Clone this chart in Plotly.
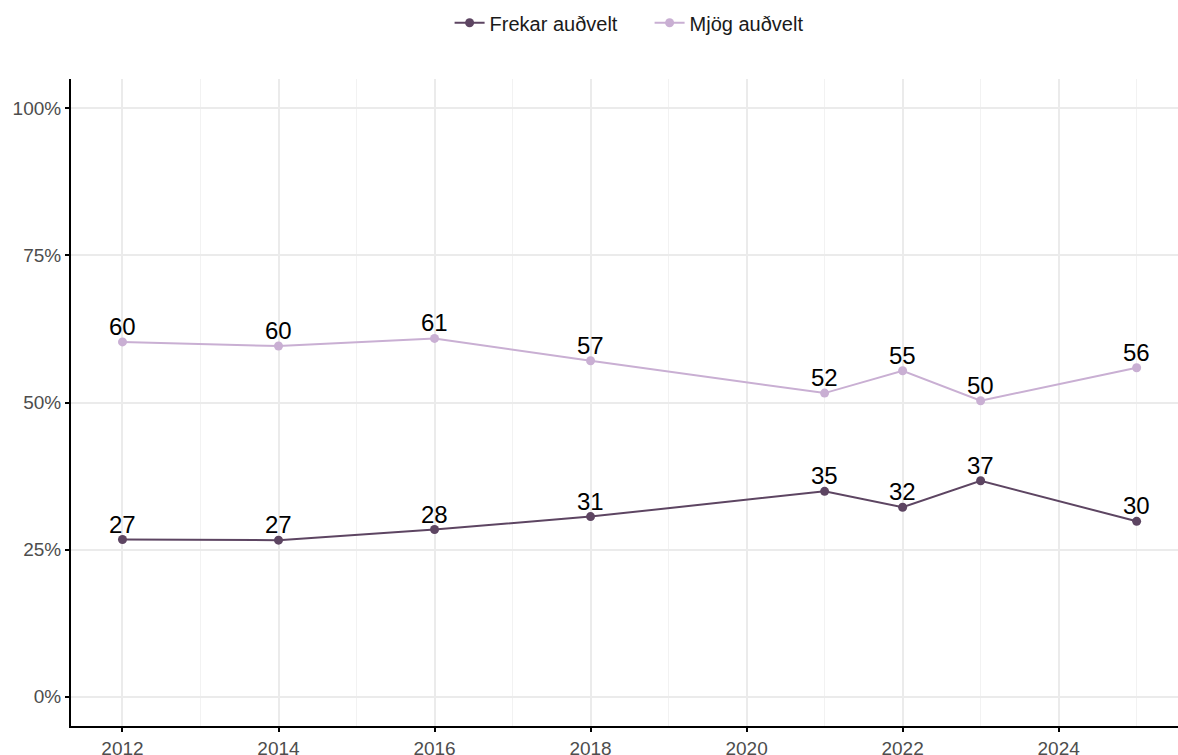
import plotly.graph_objects as go

years = [2012, 2014, 2016, 2018, 2021, 2022, 2023, 2025]
frekar = [26.7, 26.6, 28.4, 30.6, 34.9, 32.2, 36.7, 29.8]
mjog = [60.3, 59.6, 60.9, 57.1, 51.6, 55.4, 50.3, 55.9]
series_names = ["Frekar auðvelt", "Mjög auðvelt"]
colors = ["#5d4562", "#c9afd3"]
y_ticks = [0, 25, 50, 75, 100]
x_ticks = [2012, 2014, 2016, 2018, 2020, 2022, 2024]

FONT = "Liberation Sans, Arial, sans-serif"

fig = go.Figure()
for name, vals, col in zip(series_names, [frekar, mjog], colors):
    fig.add_trace(go.Scatter(
        x=years, y=vals, name=name, mode="lines+markers",
        line=dict(color=col, width=2),
        marker=dict(color=col, size=9),
    ))
    for x, v in zip(years, vals):
        fig.add_annotation(x=x, y=v, text=f"{round(v):d}", showarrow=False,
                           xanchor="center", yanchor="bottom", yshift=0,
                           font=dict(family=FONT, size=24, color="black"))

fig.update_layout(
    width=1178, height=755,
    margin=dict(l=71, r=0, t=78.5, b=28.5, autoexpand=False),
    paper_bgcolor="white", plot_bgcolor="white",
    font=dict(family=FONT, size=19, color="#4d4d4d"),
    showlegend=True,
    legend=dict(orientation="h", x=0.342, xanchor="left", y=1.087, yanchor="middle",
                font=dict(size=20, color="#1a1a1a"), entrywidth=155, entrywidthmode="pixels"),
    xaxis=dict(range=[2011.34, 2025.53], tickvals=x_ticks, ticktext=[str(t) for t in x_ticks],
               showgrid=True, gridcolor="#ebebeb", gridwidth=1.5,
               minor=dict(dtick=1, tick0=2011, showgrid=True, gridcolor="#f2f2f2", gridwidth=1),
               showline=True, linecolor="black", linewidth=2,
               ticks="outside", ticklen=4, tickcolor="black", tickwidth=2,
               zeroline=False, automargin=False, tickfont=dict(size=19, color="#4d4d4d")),
    yaxis=dict(range=[-5, 105], tickvals=y_ticks, ticktext=[f"{t}%" for t in y_ticks],
               showgrid=True, gridcolor="#ebebeb", gridwidth=1.5,
               showline=True, linecolor="black", linewidth=2,
               ticks="outside", ticklen=4, tickcolor="black", tickwidth=2,
               zeroline=False, automargin=False, tickfont=dict(size=19, color="#4d4d4d")),
)

fig.write_html("out.html", config={"displayModeBar": False},
               post_script="document.body.style.margin='0px';")
